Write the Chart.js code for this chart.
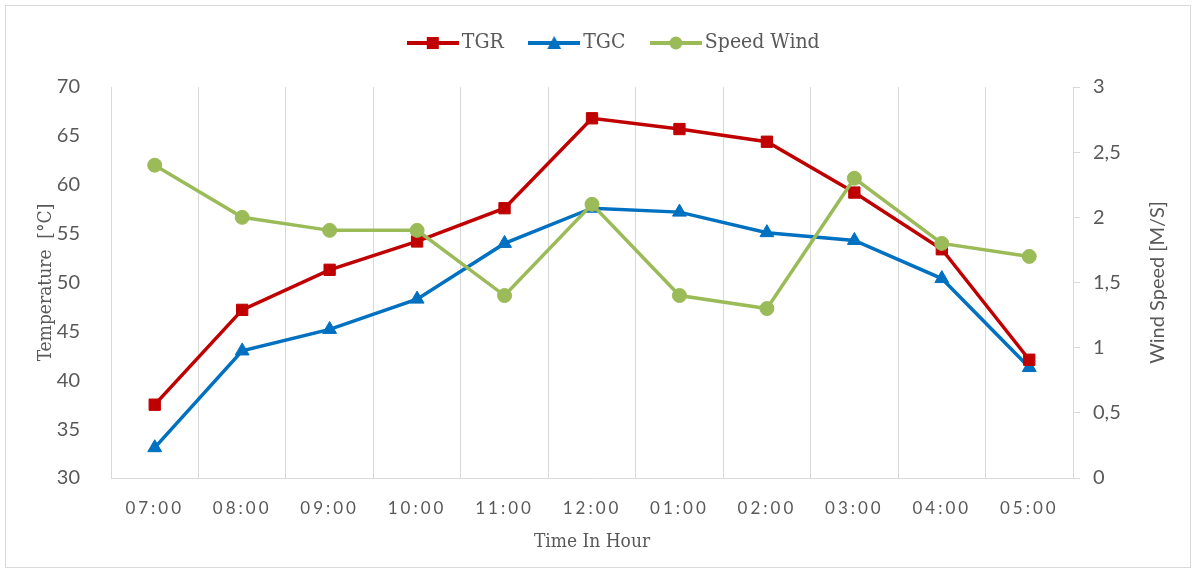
<!DOCTYPE html>
<html>
<head>
<meta charset="utf-8">
<script src="https://cdn.jsdelivr.net/npm/chart.js@4"></script>
<style>
html, body { margin:0; padding:0; background:#fff; }
#box { position:absolute; left:5px; top:5px; width:1184px; height:561px; border:1px solid #d9d9d9; }
canvas { display:block; }
</style>
</head>
<body>
<div id="box"><canvas id="chart" width="1184" height="561"></canvas></div>
<script>
// values
const hours = ["07:00","08:00","09:00","10:00","11:00","12:00","01:00","02:00","03:00","04:00","05:00"];
const tgr  = [37.5, 47.2, 51.3, 54.2, 57.6, 66.8, 65.7, 64.4, 59.2, 53.4, 42.1];
const tgc  = [33.1, 43.0, 45.2, 48.3, 54.0, 57.6, 57.2, 55.1, 54.3, 50.4, 41.3];
const wind = [2.4, 2.0, 1.9, 1.9, 1.4, 2.1, 1.4, 1.3, 2.3, 1.8, 1.7];

const RED = "#c00000", BLUE = "#0070c0", GREEN = "#9bbb59";
const GREY = "#595959", GRID = "#d9d9d9";
const SERIF = "'DejaVu Serif Condensed', 'DejaVu Serif', serif";
const SANS = "Lato, 'Liberation Sans', sans-serif";

// legend swatch: a short line with the marker in the middle
function swatch(color, shape) {
  const c = document.createElement("canvas");
  c.width = 52; c.height = 16;
  const g = c.getContext("2d");
  g.strokeStyle = color; g.fillStyle = color; g.lineWidth = 4;
  g.beginPath(); g.moveTo(0, 8); g.lineTo(52, 8); g.stroke();
  g.beginPath();
  if (shape === "rect") g.rect(20, 2, 12, 12);
  else if (shape === "triangle") { g.moveTo(26, 1); g.lineTo(33, 14); g.lineTo(19, 14); g.closePath(); }
  else g.arc(26, 8, 6.5, 0, Math.PI * 2);
  g.fill();
  return c;
}

const chartPlugin = {
  id: "tweaks",
  beforeUpdate(chart) {
    const lg = chart.legend;
    if (lg && !lg._patched) {
      const fit = lg.fit;
      lg.fit = function () { fit.call(this); this.height = 81; };
      // nudge the legend row to where the reference has it
      const draw = lg.draw;
      lg.draw = function () {
        this.ctx.save();
        this.ctx.translate(19, -5.5);
        draw.call(this);
        this.ctx.restore();
      };
      lg._patched = true;
    }
  },
  beforeDraw(chart) {
    const xs = chart.scales.x;
    if (xs && !xs._patched) {
      const draw = xs.drawLabels;
      xs.drawLabels = function (area) {
        this.ctx.save();
        this.ctx.letterSpacing = "3px";
        draw.call(this, area);
        this.ctx.restore();
      };
      xs._patched = true;
    }
  },
  afterDraw(chart) {
    // right axis title reads bottom to top
    const ctx = chart.ctx, a = chart.chartArea;
    ctx.save();
    ctx.translate(1152, (a.top + a.bottom) / 2);
    ctx.rotate(-Math.PI / 2);
    ctx.font = "20px " + SANS;
    ctx.fillStyle = GREY;
    ctx.textAlign = "center";
    ctx.textBaseline = "middle";
    ctx.fillText("Wind Speed [M/S]", 0, 0);
    ctx.restore();
  }
};

new Chart(document.getElementById("chart"), {
  type: "line",
  data: {
    labels: hours,
    datasets: [
      { label: "TGR", data: tgr, yAxisID: "y", order: 1,
        borderColor: RED, backgroundColor: RED, borderWidth: 3.5,
        pointStyle: "rect", pointRadius: 8, pointBorderWidth: 1,
        legendStyle: swatch(RED, "rect") },
      { label: "TGC", data: tgc, yAxisID: "y", order: 2,
        borderColor: BLUE, backgroundColor: BLUE, borderWidth: 3.5,
        pointStyle: "triangle", pointRadius: 8, pointBorderWidth: 1,
        legendStyle: swatch(BLUE, "triangle") },
      { label: "Speed Wind", data: wind, yAxisID: "y2", order: 0,
        borderColor: GREEN, backgroundColor: GREEN, borderWidth: 3.5,
        pointStyle: "circle", pointRadius: 7, pointBorderWidth: 1,
        legendStyle: swatch(GREEN, "circle") }
    ]
  },
  options: {
    responsive: false,
    animation: false,
    layout: { padding: 0 },
    plugins: {
      tooltip: { enabled: false },
      legend: {
        position: "top",
        labels: {
          usePointStyle: true,
          pointStyleWidth: 37,
          padding: 32,
          color: GREY,
          font: { family: SERIF, size: 21 },
          generateLabels(chart) {
            return chart.data.datasets.map((ds, i) => ({
              text: ds.label, pointStyle: ds.legendStyle, fillStyle: ds.borderColor,
              strokeStyle: ds.borderColor, lineWidth: 0, hidden: false,
              datasetIndex: i, fontColor: GREY
            }));
          }
        }
      }
    },
    scales: {
      x: {
        offset: true,
        grid: { offset: true, color: GRID, lineWidth: 1, drawTicks: false },
        border: { color: GRID },
        ticks: { color: GREY, padding: 20, font: { family: SANS, size: 17 } },
        title: { display: true, text: "Time In Hour", color: GREY,
          font: { family: SERIF, size: 19 }, padding: { top: 0, bottom: 14 } },
        afterFit(s) { s.height = 89; }
      },
      y: {
        position: "left",
        min: 30, max: 70,
        grid: { display: false },
        border: { display: false },
        ticks: { stepSize: 5, color: GREY, padding: 23, font: { family: SANS, size: 20 } },
        title: { display: true, text: "Temperature  [°C]", color: GREY,
          font: { family: SERIF, size: 19 }, padding: { top: 29, bottom: 0 } },
        afterFit(s) { s.width = 105; }
      },
      y2: {
        position: "right",
        min: 0, max: 3,
        grid: { drawOnChartArea: false, color: GRID, tickLength: 7 },
        border: { color: GRID },
        ticks: { stepSize: 0.5, color: GREY, padding: 13, font: { family: SANS, size: 20 },
          callback: v => String(v).replace(".", ",") },
        afterFit(s) { s.width = 117; }
      }
    }
  },
  plugins: [chartPlugin]
});
</script>
</body>
</html>
